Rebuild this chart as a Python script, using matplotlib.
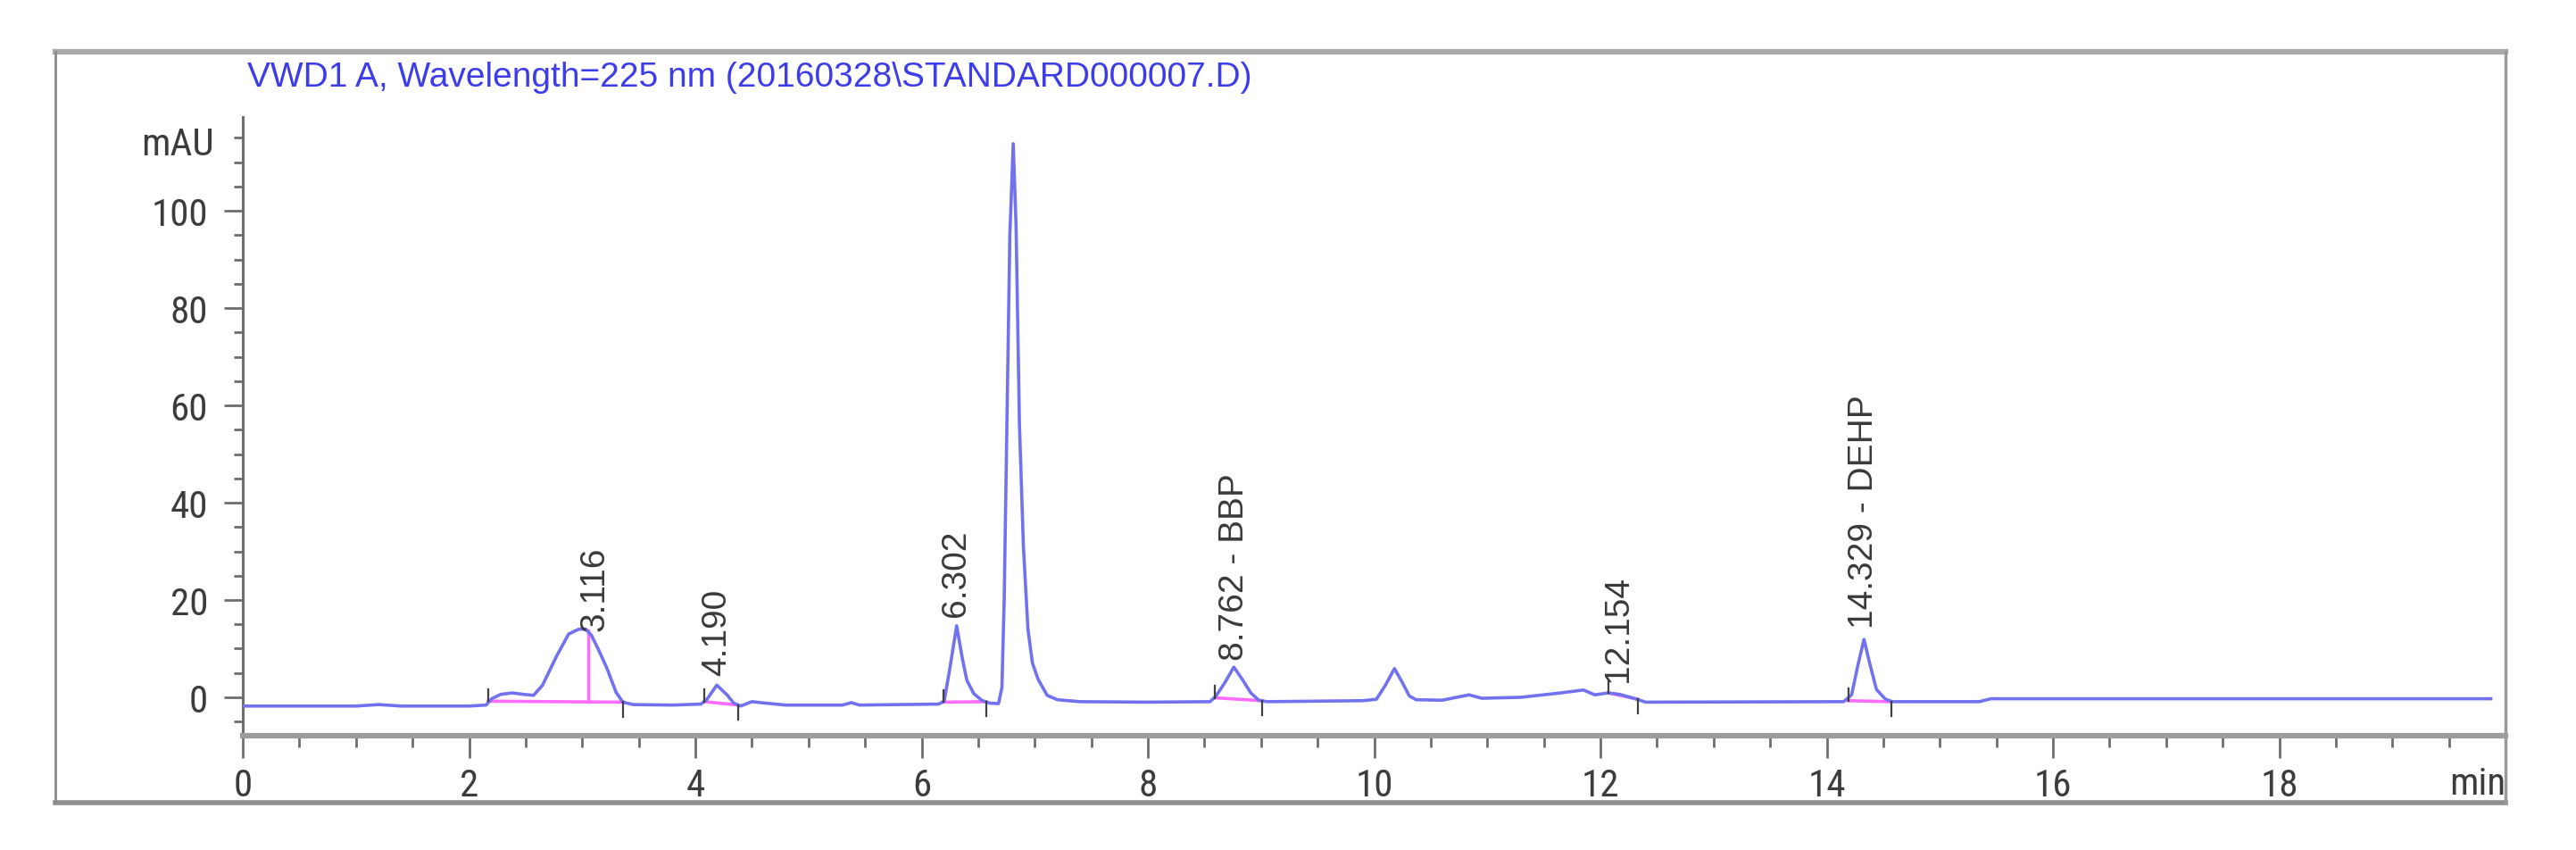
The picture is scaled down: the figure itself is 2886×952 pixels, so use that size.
import matplotlib
matplotlib.use("Agg")
import matplotlib.pyplot as plt
import matplotlib.font_manager as fm
from matplotlib.ticker import MultipleLocator, FixedLocator
from matplotlib.lines import Line2D

# ---------------- data ----------------
time_min = [0.0, 1.0, 1.2, 1.4, 2.0, 2.15, 2.20, 2.28, 2.38, 2.48, 2.57, 2.65, 2.77, 2.88,
            2.97, 3.03, 3.08, 3.14, 3.22, 3.30, 3.36, 3.45, 3.8, 4.05, 4.10, 4.19, 4.28,
            4.34, 4.40, 4.50, 4.62, 4.8, 5.3, 5.38, 5.45, 6.15, 6.20, 6.25, 6.31, 6.36,
            6.40, 6.46, 6.53, 6.60, 6.68, 6.71, 6.73, 6.75, 6.78, 6.81, 6.835, 6.865, 6.90,
            6.94, 6.98, 7.03, 7.11, 7.2, 7.4, 8.0, 8.55, 8.60, 8.68, 8.76, 8.84, 8.91,
            8.98, 9.05, 9.9, 10.02, 10.10, 10.18, 10.25, 10.31, 10.37, 10.6, 10.84, 10.95,
            11.3, 11.65, 11.85, 11.95, 12.07, 12.17, 12.31, 12.4, 14.15, 14.22, 14.28,
            14.33, 14.38, 14.44, 14.52, 14.58, 15.35, 15.45, 19.87]
signal_mau = [-1.8, -1.8, -1.5, -1.8, -1.8, -1.6, -0.3, 0.6, 0.9, 0.6, 0.4, 2.5, 8.3, 13.0,
              14.0, 14.0, 12.8, 10.0, 5.9, 1.0, -1.0, -1.5, -1.6, -1.4, -0.5, 2.5, 0.5,
              -1.2, -1.8, -0.9, -1.2, -1.6, -1.6, -1.1, -1.6, -1.4, -0.8, 6.0, 14.7, 8.0,
              3.5, 0.8, -0.6, -1.2, -1.3, 2.0, 20.0, 50.0, 95.0, 113.8, 97.0, 56.0, 31.0,
              14.0, 7.0, 3.7, 0.4, -0.5, -0.9, -1.0, -0.9, 0.2, 3.0, 6.2, 3.5, 0.9,
              -0.6, -0.9, -0.7, -0.4, 2.5, 5.9, 3.0, 0.3, -0.5, -0.6, 0.5, -0.2,
              0.0, 0.9, 1.5, 0.5, 0.9, 0.6, -0.3, -1.0, -0.9, 0.5, 7.0,
              11.9, 7.0, 1.6, -0.4, -0.9, -0.9, -0.3, -0.3]

# integration events
int_start_t = [2.17, 4.08, 6.19, 8.59, 12.07, 14.19]
int_start_v = [-0.8, -0.9, -1.0, -0.1, 0.9, -0.7]
int_end_t = [3.36, 4.38, 6.57, 9.01, 12.33, 14.57]
int_end_v = [-1.0, -1.6, -0.9, -0.7, -0.4, -0.9]
drop_t = [3.05]
drop_top = [13.8]
drop_base = [-0.9]

# peak annotations
peak_labels = ["3.116", "4.190", "6.302", "8.762 - BBP", "12.154", "14.329 - DEHP"]
peak_rt = [3.116, 4.190, 6.302, 8.762, 12.154, 14.329]
peak_height = [11.8, 2.5, 14.7, 5.7, 1.3, 12.3]

x_major = [0, 2, 4, 6, 8, 10, 12, 14, 16, 18]
x_labels = ["0", "2", "4", "6", "8", "10", "12", "14", "16", "18"]
y_major = [0, 20, 40, 60, 80, 100]

title = "VWD1 A, Wavelength=225 nm (20160328\\STANDARD000007.D)"


# ---------------- fonts ----------------
def condensed_font():
    entries = fm.fontManager.ttflist
    names = {f.name for f in entries}
    for n in ["Liberation Sans Narrow", "Arial Narrow", "DejaVu Sans Condensed",
              "Roboto Condensed", "Open Sans Condensed", "Noto Sans Condensed"]:
        if n in names:
            return fm.FontProperties(family=n), n
    for f in entries:
        if (str(f.stretch) in ("condensed", "semi-condensed", "extra-condensed")
                and f.style == "normal" and f.weight in (400, "normal", "regular", "book")):
            return fm.FontProperties(fname=f.fname), f.name
    return fm.FontProperties(family="Liberation Sans"), "Liberation Sans"


cond_fp, cond_name = condensed_font()


def cprop(size):
    p = cond_fp.copy()
    p.set_size(size)
    return p


tick_size = 31

# ---------------- figure ----------------
W, H = 2886, 953
fig = plt.figure(figsize=(W / 100, H / 100), dpi=100)
regular = ["Liberation Sans", "DejaVu Sans"]

# outer frame
fx0, fx1 = 62 / W, 2807 / W
fy0, fy1 = 1 - 900 / H, 1 - 59 / H
fig.add_artist(Line2D([fx0, fx1], [fy1, fy1], transform=fig.transFigure, color="#a9a9a9", lw=4.5))
fig.add_artist(Line2D([fx0, fx1], [fy0, fy0], transform=fig.transFigure, color="#8f8f8f", lw=4.0))
fig.add_artist(Line2D([fx0, fx0], [fy0, fy1], transform=fig.transFigure, color="#8a8a8a", lw=2.0))
fig.add_artist(Line2D([fx1, fx1], [fy0, fy1], transform=fig.transFigure, color="#9a9a9a", lw=2.5))

ax = fig.add_axes([272 / W, 1 - 825 / H, (2807 - 272) / W, (825 - 132) / H])
ax.set_xlim(0, 20)
ax.set_ylim(-7.9, 119.3)
ax.patch.set_alpha(0)

for s in ["top", "right"]:
    ax.spines[s].set_visible(False)
ax.spines["left"].set_color("#6e6e6e")
ax.spines["left"].set_linewidth(2.2)
ax.spines["bottom"].set_color("#9c9c9c")
ax.spines["bottom"].set_linewidth(4.5)

ax.xaxis.set_major_locator(FixedLocator(x_major))
ax.set_xticklabels(x_labels)
ax.xaxis.set_minor_locator(MultipleLocator(0.5))
ax.yaxis.set_major_locator(FixedLocator(y_major))
ax.yaxis.set_minor_locator(MultipleLocator(5))

ax.tick_params(axis="x", which="major", direction="out", length=18, width=2.0,
               color="#6e6e6e", labelcolor="#3c3c3c", pad=7)
ax.tick_params(axis="x", which="minor", direction="out", length=9, width=2.0, color="#6e6e6e")
ax.tick_params(axis="y", which="major", direction="out", length=15, width=2.0,
               color="#6e6e6e", labelcolor="#3c3c3c", pad=13)
ax.tick_params(axis="y", which="minor", direction="out", length=7, width=2.0, color="#6e6e6e")
for lab in ax.get_xticklabels() + ax.get_yticklabels():
    lab.set_fontproperties(cprop(tick_size))

# trace
ax.plot(time_min, signal_mau, color="#7272ee", lw=2.6, solid_joinstyle="round", zorder=3)

# integration baselines
for t0, v0, t1, v1 in zip(int_start_t, int_start_v, int_end_t, int_end_v):
    ax.plot([t0, t1], [v0, v1], color="#ff6cff", lw=2.6, zorder=2)
    ax.plot([t0, t0], [v0, v0 + 2.5], color="#404040", lw=1.6, zorder=4)
    ax.plot([t1, t1], [v1, v1 - 3.0], color="#404040", lw=1.6, zorder=4)
for t, b, top in zip(drop_t, drop_base, drop_top):
    ax.plot([t, t], [b, top], color="#ff6cff", lw=2.4, zorder=2)

# peak labels
for lab, rt, h in zip(peak_labels, peak_rt, peak_height):
    ax.text(rt, h + 2.0, lab, rotation=90, ha="center", va="bottom",
            fontsize=28, color="#3a3a3a", family=regular, zorder=5)

# axis unit labels
ax.text(1.0, -0.077, "min", transform=ax.transAxes, ha="right", va="center",
        fontproperties=cprop(tick_size), color="#3c3c3c")
fig.text(240 / W, 1 - 163 / H, "mAU", ha="right", va="center",
         fontproperties=cprop(tick_size), color="#3c3c3c")

# title
fig.text(277 / W, 1 - 87 / H, title, ha="left", va="center",
         fontsize=28, family=regular, color="#3c3ce8")

fig.savefig("out.png", dpi=100)
